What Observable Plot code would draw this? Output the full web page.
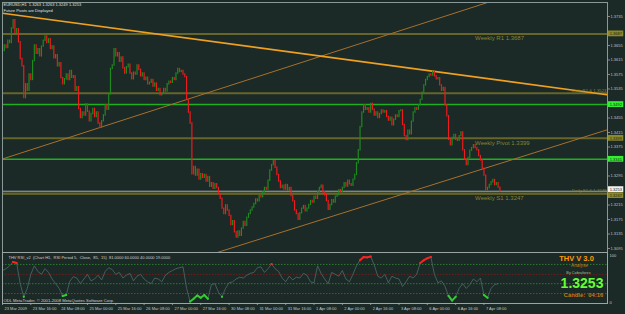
<!DOCTYPE html>
<html><head><meta charset="utf-8">
<script src="https://cdn.jsdelivr.net/npm/d3@7"></script>
<script src="https://cdn.jsdelivr.net/npm/@observablehq/plot@0.6"></script>
<style>
body{margin:0;background:#1b2927;}
#c{width:625px;height:314px;background:#1b2927;overflow:hidden}
#c svg{display:block}
</style></head><body><div id="c"></div>
<script>
// H1 closes, EURUSD, in pips above 1.3000 (bar 0 = 23 Mar 2009 00:00)
const closes = [
640,655,648,668,662,702,725,690,700,664,618,598,
510,548,530,575,560,612,655,632,645,625,652,668,
680,662,672,645,652,620,628,598,606,565,548,562,
575,560,585,566,570,530,540,480,455,470,462,492,
472,446,466,480,458,470,440,428,446,462,490,478,
520,590,600,645,625,634,610,622,592,578,595,602,
578,562,580,575,600,588,570,578,560,566,548,552,
560,542,550,530,535,518,522,535,528,548,555,552,
565,560,578,590,582,585,575,568,505,470,440,300,
320,296,312,285,300,290,298,280,292,265,275,260,
272,262,245,232,205,190,214,200,185,160,170,140,
125,142,130,150,168,158,180,190,200,208,218,230,
225,240,236,250,262,258,282,310,325,336,318,298,
280,262,268,258,270,255,262,240,225,200,190,174,
192,205,212,198,205,215,226,222,238,232,250,262,
268,250,242,226,202,215,228,222,238,242,256,250,
262,275,266,282,272,268,285,298,330,366,430,470,
490,478,482,470,494,478,462,470,455,466,476,470,
474,458,448,456,435,450,462,458,474,476,436,405,
394,420,410,445,470,482,478,490,505,525,545,560,
568,575,572,582,570,562,565,545,530,538,490,460,
395,380,400,408,395,392,405,415,366,340,325,345,
365,372,380,372,366,350,338,315,296,256,262,270,
278,284,270,275,263,253
];
// THV RSI_v2 values read every 2 bars (bar 0, 2, 4, ...)
const rsiValues = [
68,72,78,86,84,40,12,30,60,78,66,60,72,64,50,40,30,14,16,45,
55,52,40,50,60,46,50,58,48,66,74,70,60,64,52,58,62,46,56,60,
50,44,40,52,50,44,58,64,68,72,74,76,30,2,8,15,10,16,8,38,
40,22,12,30,42,44,50,54,52,58,62,64,74,76,64,72,82,72,66,52,
44,56,48,54,52,62,58,44,42,78,62,50,40,64,60,56,68,50,44,60,
78,90,97,96,98,80,56,52,60,42,56,52,50,34,44,56,52,60,84,90,
94,97,60,42,46,34,14,4,12,30,40,30,38,50,44,52,16,10,30,38,40
];
const dateIdx = [0,16,32,48,64,80,96,112,128,144,160,176,192,208,224,240,256,272];
const dateLabels = ["23 Mar 2009","23 Mar 16:00","24 Mar 08:00","25 Mar 00:00","25 Mar 16:00","26 Mar 08:00","27 Mar 00:00","27 Mar 16:00","30 Mar 08:00","31 Mar 00:00","31 Mar 16:00","1 Apr 08:00","2 Apr 00:00","2 Apr 16:00","3 Apr 08:00","6 Apr 00:00","6 Apr 16:00","7 Apr 08:00"];
const priceTicks = [1.3095,1.3135,1.3175,1.3215,1.3295,1.3375,1.3415,1.3455,1.3535,1.3575,1.3615,1.3655,1.3735];
const pivotNames = ["Weekly R1","Weekly Pivot","Weekly S1"];
const pivotValues = [1.3687,1.3399,1.3247];
const dailyLevels = [1.3523,1.3249];
const dailyNames = ["Daily R1 & 1.3523","Daily S1 & 1.3249"];
const greenLevels = [1.3492,1.3341];
const currentPrice = 1.3253;
const trendOrange = [[0,1.3744],[342,1.3519]];
const channelUpper = [[0,1.3342],[280,1.3783]];
const channelLower = [[120,1.3082],[342,1.3423]];
const rsiLevels = [81,60,40,19];

const XMAX = 341.8;
const bars = closes.map((c,k)=>({i:k, o:1.3+(k?closes[k-1]:c)/10000, c:1.3+c/10000}));
const rsi = rsiValues.map((v,k)=>({i:2*k, v}));
const font = "Liberation Sans, Arial, sans-serif";
const txt = "#c8c8c8";
const olive = "#66652a";

const boxes = [
  {v:pivotValues[0], bg:"#8a8a2a", fg:"#202010", dy:0},
  {v:greenLevels[0], bg:"#33ee33", fg:"#103010", dy:0},
  {v:pivotValues[1], bg:"#8a8a2a", fg:"#202010", dy:0},
  {v:greenLevels[1], bg:"#33ee33", fg:"#103010", dy:0},
  {v:pivotValues[2], bg:"#8a8a2a", fg:"#202010", dy:2.2},
  {v:currentPrice, bg:"#f0f0f0", fg:"#202020", dy:-1.6}
];

const main = Plot.plot({
  width:625, height:252, marginLeft:2, marginRight:18, marginTop:2, marginBottom:0,
  style:{background:"transparent", fontFamily:font, color:txt, overflow:"visible"},
  x:{domain:[0,XMAX], axis:null},
  y:{domain:[1.30840,1.37736], axis:null},
  marks:[
    Plot.ruleY(pivotValues.concat(dailyLevels.slice(0,1)), {stroke:olive, strokeWidth:2}),
    Plot.ruleY(greenLevels, {stroke:"#1fb01f", strokeWidth:1.5}),
    Plot.ruleY([currentPrice], {stroke:"#a2acb6", strokeWidth:1}),
    Plot.ruleY([dailyLevels[1]], {stroke:olive, strokeWidth:1.2, dy:1.5}),
    Plot.line(channelUpper, {x:d=>d[0], y:d=>d[1], stroke:"#a8702c", strokeWidth:1, clip:true}),
    Plot.line(channelLower, {x:d=>d[0], y:d=>d[1], stroke:"#a8702c", strokeWidth:1, clip:true}),
    Plot.line(trendOrange, {x:d=>d[0], y:d=>d[1], stroke:"#f0a020", strokeWidth:1.6, clip:true}),
    Plot.ruleX(bars, {x:"i", y1:d=>Math.min(d.o,d.c)-0.0002, y2:d=>Math.max(d.o,d.c)+0.0002,
      stroke:d=>d.c>=d.o?"#1f8a1f":"#ee1c1c", strokeWidth:1.2}),
    Plot.text(pivotValues, {x:267, y:d=>d, text:(d,k)=>pivotNames[k]+" "+d.toFixed(4), textAnchor:"start",
      dy:4.5, fill:"#8a8530", fontSize:6, fontFamily:font}),
    Plot.text(dailyLevels, {x:XMAX, y:d=>d, text:(d,k)=>dailyNames[k], textAnchor:"end", dx:-1,
      dy:-2.5, fill:"#8a8530", fontSize:4.3, fontFamily:font}),
    ...boxes.map(b => Plot.rect([b], {x1:XMAX+0.2, x2:XMAX+9.2, y1:d=>d.v-0.0008, y2:d=>d.v+0.0008, fill:d=>d.bg, dy:b.dy})),
    ...boxes.map(b => Plot.text([b], {x:XMAX+4.7, y:d=>d.v, text:d=>d.v.toFixed(4), fill:d=>d.fg, fontSize:4, fontFamily:font, dy:b.dy})),
    Plot.axisY({anchor:"right", ticks:priceTicks, tickFormat:d=>d.toFixed(4), tickSize:2, tickPadding:1, fontSize:4, fontFamily:font, stroke:"#888", fill:"#c0c0c0"}),
    Plot.frame({stroke:"#8a9898", strokeWidth:1}),
    Plot.text(["EURUSD,H1  1.3263 1.3263 1.3249 1.3253"], {frameAnchor:"top-left", dx:1, dy:1, textAnchor:"start", fill:"#e0e0e0", fontSize:4, fontFamily:font}),
    Plot.text(["Future Pivots are Displayed"], {frameAnchor:"top-left", dx:1, dy:7, textAnchor:"start", fill:"#e0e0e0", fontSize:4, fontFamily:font})
  ]
});

const rsiPlot = Plot.plot({
  width:625, height:62, marginLeft:2, marginRight:18, marginTop:3, marginBottom:12,
  style:{background:"transparent", fontFamily:font, color:txt, overflow:"visible"},
  x:{domain:[0,XMAX], axis:null},
  y:{domain:[0,100], axis:null},
  marks:[
    Plot.ruleY(rsiLevels, {stroke:(d,k)=>["#2e7a2e","#7a1c1c","#2e7a2e","#c42020"][k], strokeDasharray:"1.5,1.5", strokeWidth:1}),
    Plot.line(rsi, {x:"i", y:"v", stroke:"#4e6c6a", strokeWidth:0.8}),
    Plot.line(rsi, {x:"i", y:d=>d.v>81?d.v:NaN, stroke:"#ff2222", strokeWidth:2}),
    Plot.dot(rsi.filter(d=>d.v>81), {x:"i", y:"v", r:1, fill:"#ff2222"}),
    Plot.line(rsi, {x:"i", y:d=>d.v<19?d.v:NaN, stroke:"#33cc33", strokeWidth:2}),
    Plot.dot(rsi.filter(d=>d.v<19), {x:"i", y:"v", r:1, fill:"#33cc33"}),
    Plot.frame({stroke:"#9aa4a4", insetTop:-3, insetBottom:-1}),
    Plot.ruleX(dateIdx, {x:d=>d, y1:-2, y2:-6, stroke:"#9aa"}),
    Plot.text(dateIdx, {x:d=>d, text:(d,k)=>dateLabels[k], frameAnchor:"bottom", dy:7, dx:2, textAnchor:"start", fill:txt, fontSize:4, fontFamily:font}),
    Plot.text(["100","0"], {x:XMAX, y:(d)=>+d, text:d=>d, dx:2, textAnchor:"start", fill:txt, fontSize:4, fontFamily:font}),
    Plot.text(["THV RSI_v2  (Chart H1,  RSI Period 5,  Close,  85,  15)  81.0000 60.0000 40.0000 19.0000"], {frameAnchor:"top-left", dx:6, dy:0.5, textAnchor:"start", fill:"#d0d0d0", fontSize:4, fontFamily:font}),
    Plot.text(["ODL MetaTrader, © 2001-2008 MetaQuotes Software Corp."], {frameAnchor:"top-left", dx:1, dy:44, textAnchor:"start", fill:"#d0d0d0", fontSize:4.2, fontFamily:font}),
    Plot.text(["THV V 3.0"], {frameAnchor:"top-left", dx:574, dy:3, textAnchor:"middle", lineAnchor:"middle", fill:"#ff9a00", fontSize:7.5, fontWeight:"bold", fontFamily:font}),
    Plot.text(["Analyse"], {frameAnchor:"top-left", dx:577, dy:10, textAnchor:"middle", lineAnchor:"middle", fill:"#c87a10", fontSize:4.8, fontFamily:font}),
    Plot.text(["By Cobraforex"], {frameAnchor:"top-left", dx:576, dy:17, textAnchor:"middle", lineAnchor:"middle", fill:"#9fc090", fontSize:3.8, fontFamily:font}),
    Plot.text(["1.3253"], {frameAnchor:"top-left", dx:579.5, dy:28, textAnchor:"middle", lineAnchor:"middle", fill:"#66ff33", fontSize:14, fontWeight:"bold", fontFamily:font}),
    Plot.text(["Candle:  04:16"], {frameAnchor:"top-left", dx:581, dy:40, textAnchor:"middle", lineAnchor:"middle", fill:"#c87a10", fontSize:5.8, fontWeight:"bold", fontFamily:font})
  ]
});
document.getElementById("c").append(main, rsiPlot);
</script></body></html>
